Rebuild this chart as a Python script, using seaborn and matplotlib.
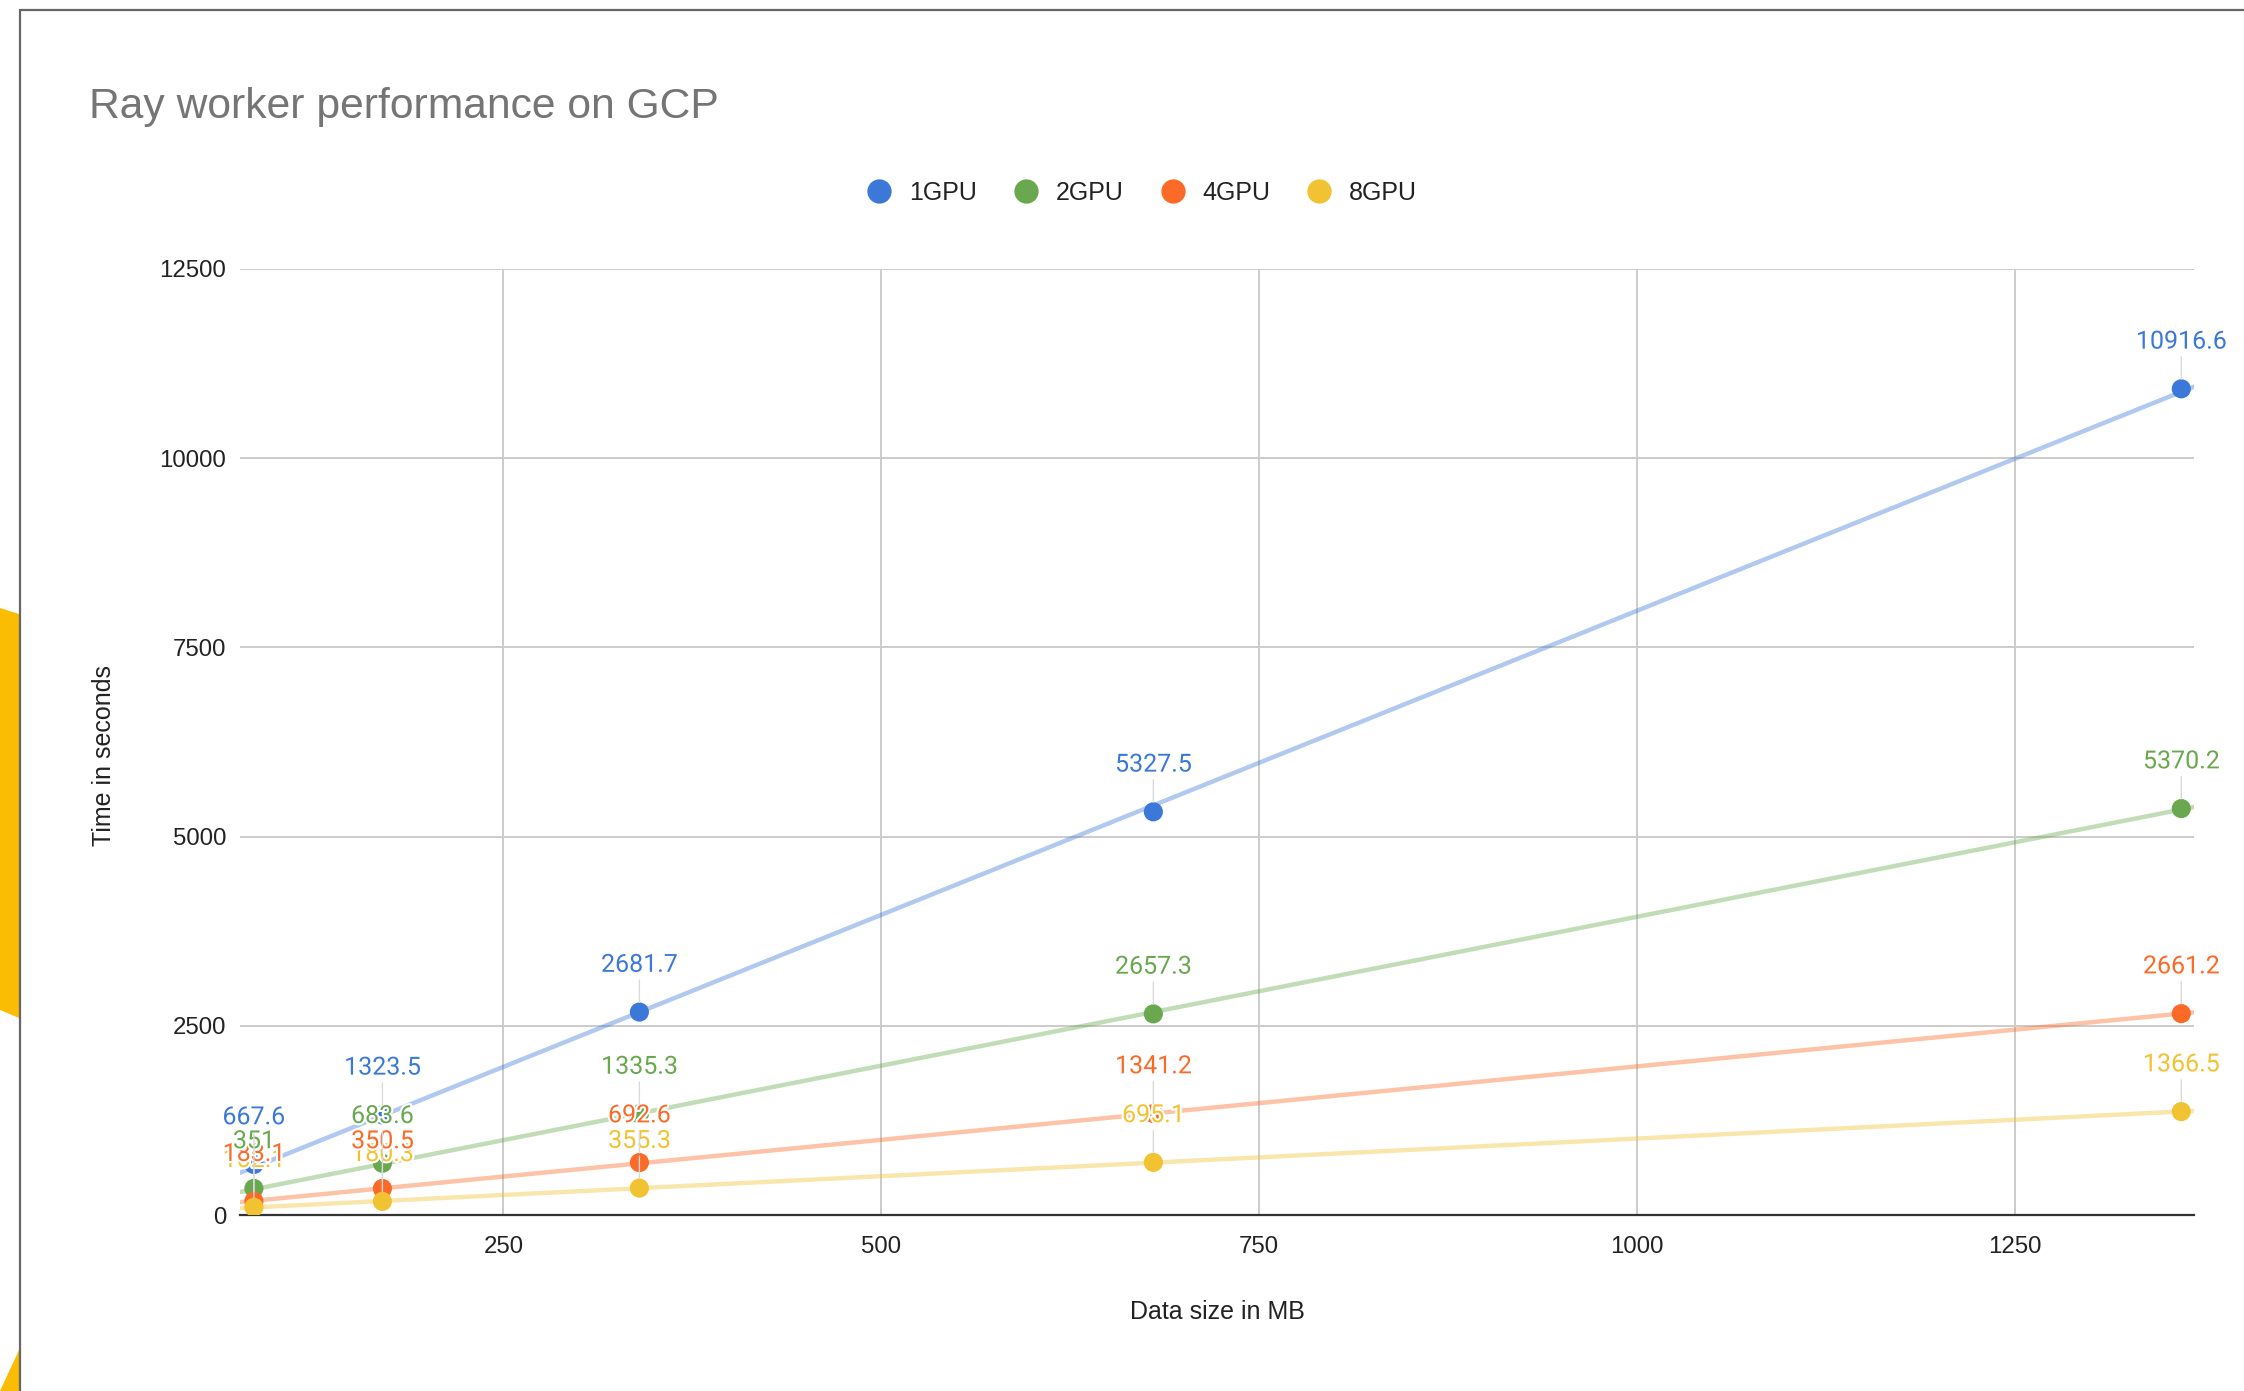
import pandas as pd
import numpy as np
import seaborn as sns
import matplotlib.pyplot as plt
import matplotlib.patheffects as pe
from matplotlib.lines import Line2D
from matplotlib.patches import Polygon

# data
sizes = [85, 170, 340, 680, 1360]
gpu1 = [667.6, 1323.5, 2681.7, 5327.5, 10916.6]
gpu2 = [351, 683.6, 1335.3, 2657.3, 5370.2]
gpu4 = [183.1, 350.5, 692.6, 1341.2, 2661.2]
gpu8 = [102.1, 180.3, 355.3, 695.1, 1366.5]
series = ['1GPU', '2GPU', '4GPU', '8GPU']
colors = ['#3c78d8', '#6aa84f', '#fb6a26', '#f1c232']
yticks = [0, 2500, 5000, 7500, 10000, 12500]
xticks = [250, 500, 750, 1000, 1250]

df = pd.DataFrame({'Data size in MB': sizes * 4,
                   'Time in seconds': gpu1 + gpu2 + gpu4 + gpu8,
                   'series': np.repeat(series, len(sizes))})
palette = dict(zip(series, colors))

sns.set_style('white')
plt.rcParams['font.family'] = ['Liberation Sans', 'DejaVu Sans']

W, H = 2244, 1391
fig = plt.figure(figsize=(W / 100, H / 100), dpi=100)
ax = fig.add_axes([240 / W, 1 - 1215 / H, 1954 / W, 946 / H])

ax.set_xlim(75.8, 1368.4)
ax.set_ylim(0, 12500)

# trendlines over the whole x range
for name in series:
    sub = df[df['series'] == name]
    sns.regplot(data=sub, x='Data size in MB', y='Time in seconds', ax=ax,
                scatter=False, ci=None, truncate=False, color=palette[name],
                line_kws=dict(alpha=0.4, lw=3.2, zorder=2))

sns.scatterplot(data=df, x='Data size in MB', y='Time in seconds', hue='series',
                palette=palette, s=190, edgecolor='none', legend=False, ax=ax, zorder=3)

for i, name in enumerate(series):
    sub = df[df['series'] == name]
    for _, row in sub.iterrows():
        ax.annotate(f"{row['Time in seconds']:g}",
                    (row['Data size in MB'], row['Time in seconds']),
                    xytext=(0, 34), textcoords='offset points', ha='center', va='center',
                    fontsize=18, family=['Roboto', 'DejaVu Sans'], color=palette[name],
                    zorder=10 - i,
                    path_effects=[pe.withStroke(linewidth=3, foreground='white')],
                    arrowprops=dict(arrowstyle='-', color='#dadada', lw=1,
                                    shrinkA=0, shrinkB=7, zorder=2.5))

ax.set_xlim(75.8, 1368.4)
ax.set_ylim(0, 12500)
ax.set_xticks(xticks)
ax.set_yticks(yticks)
ax.tick_params(axis='both', length=0, labelsize=17.3, labelcolor='#222222')
ax.tick_params(axis='x', pad=15)
ax.tick_params(axis='y', pad=10)
ax.grid(True, color='#cccccc', lw=1.4)
ax.set_axisbelow(True)
for s in ['top', 'right', 'left']:
    ax.spines[s].set_visible(False)
ax.spines['bottom'].set_color('#333333')
ax.spines['bottom'].set_linewidth(1.6)
ax.spines['bottom'].set_zorder(2.5)

ax.set_xlabel('Data size in MB', fontsize=18, color='#222222', va='center')
ax.xaxis.set_label_coords(0.5, (1215 - 1312) / 946)
ax.set_ylabel('Time in seconds', fontsize=18, color='#222222', va='center')
ax.yaxis.set_label_coords((104 - 240) / 1954, (1215 - 756) / 946)

fig.text(89 / W, 1 - 107 / H, 'Ray worker performance on GCP', fontsize=30.7,
         color='#757575', ha='left', va='center')

handles = [Line2D([], [], ls='none', marker='o', ms=17.5, color=c, markeredgewidth=0)
           for c in colors]
fig.legend(handles, series, loc='center', bbox_to_anchor=(1142 / W, 1 - 193 / H),
           ncol=4, frameon=False, fontsize=18, handlelength=1, handletextpad=0.7,
           columnspacing=1.45, labelcolor='#222222')

# screenshot frame and the yellow shapes at the left edge
fig.add_artist(Line2D([20 / W, 20 / W], [0, 1 - 10 / H], color='#666666', lw=1.6))
fig.add_artist(Line2D([20 / W, 1], [1 - 10 / H, 1 - 10 / H], color='#666666', lw=1.6))
fig.add_artist(Polygon([(0, 1 - 608 / H), (19 / W, 1 - 614 / H), (19 / W, 1 - 1018 / H),
                        (0, 1 - 1010 / H)], closed=True, color='#fbbc04', lw=0))
fig.add_artist(Polygon([(19 / W, 1 - 1350 / H), (19 / W, 0), (0, 0)],
                       closed=True, color='#fbbc04', lw=0))

fig.savefig('out.png', dpi=100, facecolor='white')
